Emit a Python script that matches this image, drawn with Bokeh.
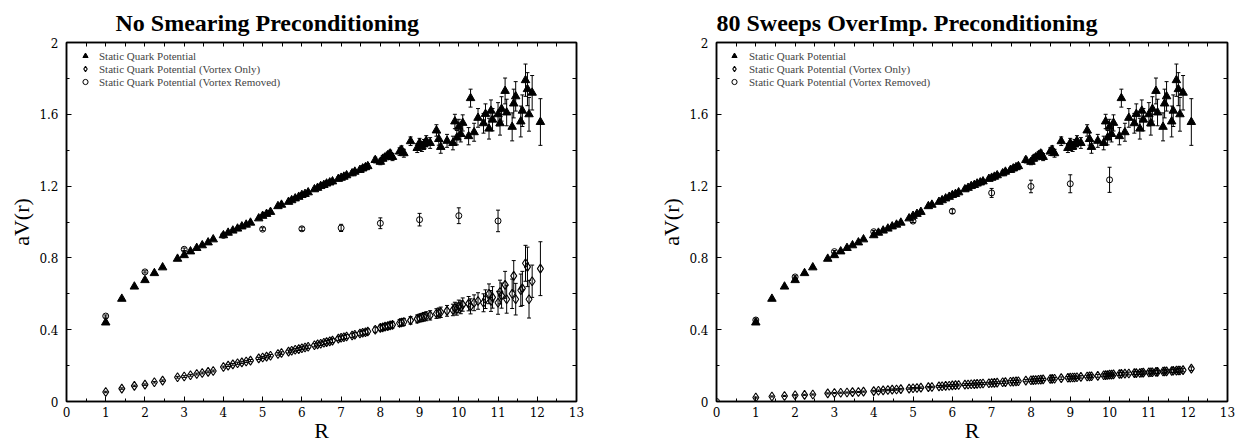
from bokeh.plotting import figure
from bokeh.models import (ColumnDataSource, Whisker, TeeHead, LinearAxis,
                          SingleIntervalTicker, FixedTicker, CustomJSTickFormatter,
                          Range1d, Legend, LegendItem)
from bokeh.layouts import row
from bokeh.embed import file_html
from bokeh.resources import INLINE

# ---------------- data ----------------
titles = ["No Smearing Preconditioning", "80 Sweeps OverImp. Preconditioning"]
legend_labels = ["Static Quark Potential",
                 "Static Quark Potential (Vortex Only)",
                 "Static Quark Potential (Vortex Removed)"]
x_label = "R"
y_label = "aV(r)"

r_all = [1.00, 1.41, 1.73, 2.00, 2.24, 2.45, 2.83, 3.00, 3.16, 3.32,
         3.46, 3.61, 3.74, 4.00, 4.12, 4.24, 4.36, 4.47, 4.58, 4.69,
         4.90, 5.00, 5.10, 5.20, 5.39, 5.48, 5.66, 5.74, 5.83, 5.92,
         6.00, 6.08, 6.16, 6.32, 6.40, 6.48, 6.56, 6.63, 6.71, 6.78,
         6.93, 7.00, 7.07, 7.14, 7.28, 7.35, 7.48, 7.55, 7.62, 7.68,
         7.87, 8.00, 8.06, 8.12, 8.19, 8.25, 8.31, 8.49, 8.54, 8.60,
         8.77, 8.94, 9.00, 9.06, 9.11, 9.17, 9.27, 9.43, 9.49, 9.54,
         9.70, 9.85, 9.90, 9.95, 10.00, 10.05, 10.10, 10.25, 10.30, 10.39,
         10.49, 10.63, 10.68, 10.77, 10.82, 10.86, 11.00, 11.05, 11.09, 11.18,
         11.22, 11.36, 11.40, 11.45, 11.58, 11.62, 11.70, 11.75, 11.79, 11.87,
         12.08]

# full static quark potential (same in both panels)
v_full = [0.440, 0.572, 0.640, 0.676, 0.715, 0.747, 0.795, 0.815, 0.836, 0.855,
          0.870, 0.886, 0.903, 0.926, 0.940, 0.952, 0.963, 0.975, 0.985, 0.996,
          1.020, 1.034, 1.045, 1.056, 1.088, 1.096, 1.112, 1.121, 1.131, 1.140,
          1.150, 1.156, 1.165, 1.182, 1.190, 1.200, 1.206, 1.214, 1.220, 1.226,
          1.240, 1.246, 1.252, 1.260, 1.271, 1.280, 1.290, 1.298, 1.305, 1.311,
          1.345, 1.335, 1.352, 1.360, 1.372, 1.381, 1.362, 1.392, 1.402, 1.383,
          1.450, 1.412, 1.440, 1.420, 1.432, 1.452, 1.440, 1.510, 1.462, 1.418,
          1.452, 1.440, 1.560, 1.470, 1.530, 1.490, 1.552, 1.478, 1.690, 1.500,
          1.580, 1.550, 1.602, 1.520, 1.620, 1.570, 1.600, 1.550, 1.630, 1.730,
          1.610, 1.530, 1.660, 1.700, 1.560, 1.620, 1.790, 1.740, 1.600, 1.720,
          1.557]
e_full = [0.003, 0.003, 0.003, 0.003, 0.003, 0.004, 0.004, 0.004, 0.004, 0.004,
          0.004, 0.004, 0.004, 0.004, 0.004, 0.004, 0.005, 0.005, 0.005, 0.005,
          0.005, 0.006, 0.006, 0.006, 0.006, 0.007, 0.007, 0.007, 0.007, 0.008,
          0.008, 0.008, 0.008, 0.009, 0.009, 0.009, 0.010, 0.010, 0.010, 0.010,
          0.011, 0.011, 0.012, 0.012, 0.013, 0.013, 0.014, 0.014, 0.015, 0.015,
          0.016, 0.016, 0.017, 0.018, 0.018, 0.019, 0.020, 0.021, 0.022, 0.022,
          0.024, 0.025, 0.026, 0.027, 0.028, 0.029, 0.030, 0.032, 0.034, 0.035,
          0.036, 0.038, 0.040, 0.040, 0.042, 0.044, 0.045, 0.048, 0.050, 0.050,
          0.052, 0.055, 0.056, 0.058, 0.060, 0.062, 0.065, 0.066, 0.068, 0.072,
          0.074, 0.078, 0.080, 0.082, 0.086, 0.088, 0.090, 0.092, 0.094, 0.096,
          0.130]

# vortex only, no smearing
v_only_nosmear = [0.053, 0.072, 0.087, 0.094, 0.107, 0.116, 0.135, 0.139, 0.146, 0.153,
                  0.159, 0.165, 0.170, 0.192, 0.200, 0.207, 0.213, 0.218, 0.223, 0.228,
                  0.240, 0.245, 0.250, 0.255, 0.265, 0.270, 0.278, 0.283, 0.288, 0.292,
                  0.297, 0.301, 0.305, 0.313, 0.318, 0.322, 0.327, 0.331, 0.335, 0.339,
                  0.350, 0.355, 0.358, 0.362, 0.368, 0.372, 0.379, 0.383, 0.386, 0.390,
                  0.400, 0.410, 0.413, 0.417, 0.420, 0.424, 0.427, 0.437, 0.440, 0.443,
                  0.452, 0.460, 0.465, 0.468, 0.472, 0.475, 0.480, 0.490, 0.493, 0.497,
                  0.505, 0.510, 0.520, 0.515, 0.530, 0.525, 0.540, 0.545, 0.530, 0.550,
                  0.560, 0.550, 0.570, 0.600, 0.560, 0.580, 0.550, 0.610, 0.590, 0.650,
                  0.570, 0.600, 0.700, 0.570, 0.620, 0.630, 0.770, 0.750, 0.570, 0.670,
                  0.740]
e_only_nosmear = [0.004, 0.004, 0.004, 0.004, 0.004, 0.004, 0.005, 0.005, 0.005, 0.005,
                  0.005, 0.005, 0.005, 0.005, 0.005, 0.005, 0.006, 0.006, 0.006, 0.006,
                  0.006, 0.006, 0.007, 0.007, 0.007, 0.007, 0.008, 0.008, 0.008, 0.008,
                  0.008, 0.009, 0.009, 0.009, 0.009, 0.010, 0.010, 0.010, 0.010, 0.011,
                  0.011, 0.011, 0.012, 0.012, 0.012, 0.013, 0.013, 0.014, 0.014, 0.015,
                  0.015, 0.016, 0.016, 0.017, 0.017, 0.018, 0.018, 0.019, 0.020, 0.020,
                  0.021, 0.022, 0.022, 0.023, 0.024, 0.025, 0.026, 0.027, 0.028, 0.029,
                  0.030, 0.032, 0.033, 0.034, 0.035, 0.036, 0.037, 0.040, 0.042, 0.044,
                  0.046, 0.050, 0.052, 0.055, 0.058, 0.060, 0.064, 0.066, 0.070, 0.075,
                  0.078, 0.082, 0.085, 0.088, 0.090, 0.095, 0.100, 0.110, 0.105, 0.090,
                  0.150]

# vortex only, 80 sweeps over-improved
v_only_overimp = [0.022, 0.028, 0.031, 0.035, 0.037, 0.039, 0.045, 0.047, 0.049, 0.050,
                  0.052, 0.053, 0.055, 0.058, 0.060, 0.062, 0.064, 0.066, 0.067, 0.069,
                  0.072, 0.074, 0.075, 0.077, 0.080, 0.081, 0.084, 0.085, 0.087, 0.088,
                  0.090, 0.091, 0.092, 0.094, 0.095, 0.096, 0.097, 0.098, 0.099, 0.100,
                  0.102, 0.103, 0.104, 0.105, 0.107, 0.108, 0.110, 0.111, 0.112, 0.113,
                  0.116, 0.118, 0.119, 0.120, 0.121, 0.122, 0.123, 0.125, 0.126, 0.127,
                  0.130, 0.132, 0.133, 0.134, 0.134, 0.135, 0.137, 0.139, 0.140, 0.141,
                  0.143, 0.146, 0.147, 0.148, 0.150, 0.150, 0.151, 0.153, 0.154, 0.155,
                  0.156, 0.158, 0.158, 0.159, 0.160, 0.161, 0.162, 0.163, 0.163, 0.165,
                  0.165, 0.167, 0.168, 0.168, 0.170, 0.171, 0.172, 0.173, 0.173, 0.175,
                  0.183]
e_only_overimp = [0.003, 0.003, 0.003, 0.003, 0.003, 0.003, 0.003, 0.003, 0.003, 0.003,
                  0.003, 0.003, 0.003, 0.004, 0.004, 0.004, 0.004, 0.004, 0.004, 0.004,
                  0.004, 0.004, 0.004, 0.004, 0.004, 0.004, 0.005, 0.005, 0.005, 0.005,
                  0.005, 0.005, 0.005, 0.005, 0.005, 0.005, 0.005, 0.005, 0.005, 0.005,
                  0.005, 0.005, 0.005, 0.005, 0.006, 0.006, 0.006, 0.006, 0.006, 0.006,
                  0.006, 0.006, 0.006, 0.006, 0.006, 0.006, 0.006, 0.007, 0.007, 0.007,
                  0.007, 0.007, 0.007, 0.007, 0.007, 0.007, 0.007, 0.007, 0.007, 0.008,
                  0.008, 0.008, 0.008, 0.008, 0.008, 0.008, 0.008, 0.008, 0.008, 0.008,
                  0.008, 0.008, 0.008, 0.008, 0.009, 0.009, 0.009, 0.009, 0.009, 0.009,
                  0.009, 0.009, 0.009, 0.009, 0.009, 0.010, 0.010, 0.010, 0.010, 0.010,
                  0.010]

# vortex removed
r_removed_nosmear = [1, 2, 3, 4, 5, 6, 7, 8, 9, 10, 11]
v_removed_nosmear = [0.476, 0.722, 0.848, 0.925, 0.960, 0.962, 0.967, 0.993, 1.013, 1.035, 1.006]
e_removed_nosmear = [0.006, 0.006, 0.007, 0.008, 0.008, 0.010, 0.020, 0.030, 0.035, 0.044, 0.060]

r_removed_overimp = [0, 1, 2, 3, 4, 5, 6, 7, 8, 9, 10]
v_removed_overimp = [0.000, 0.454, 0.694, 0.835, 0.946, 1.005, 1.060, 1.162, 1.198, 1.213, 1.235]
e_removed_overimp = [0.000, 0.006, 0.006, 0.006, 0.007, 0.008, 0.012, 0.025, 0.035, 0.050, 0.070]

for arr in (v_full, e_full, v_only_nosmear, e_only_nosmear, v_only_overimp, e_only_overimp):
    assert len(arr) == len(r_all)

# ---------------- styling ----------------
SERIF = "Liberation Serif"
TICKF = "DejaVu Serif"
FIG_H = 445


def make_src(x, v, e):
    return ColumnDataSource(dict(
        x=x, y=v,
        lo=[a - b for a, b in zip(v, e)],
        hi=[a + b for a, b in zip(v, e)]))


def add_err(p, s):
    w = Whisker(source=s, base="x", upper="hi", lower="lo", dimension="height",
                line_color="black", line_width=1, level="underlay",
                upper_head=TeeHead(size=4, line_color="black", line_width=1),
                lower_head=TeeHead(size=4, line_color="black", line_width=1))
    p.add_layout(w)


def style_axis(ax):
    ax.axis_line_color = "black"
    ax.axis_line_width = 1.5
    ax.major_tick_in = 5
    ax.major_tick_out = 0
    ax.minor_tick_in = 3
    ax.minor_tick_out = 0
    ax.major_tick_line_color = "black"
    ax.minor_tick_line_color = "black"


def mirror_axis(minor_positions):
    # tick marks only (no labels) for the top / right frame edges
    ax = LinearAxis(ticker=FixedTicker(ticks=[], minor_ticks=minor_positions))
    style_axis(ax)
    ax.minor_tick_in = 4
    ax.major_label_standoff = 0
    return ax


def make_panel(title, title_offset, width, border_left, border_right,
               v_only, e_only, r_rem, v_rem, e_rem, glyph_w, label_off):
    p = figure(width=width, height=FIG_H, output_backend="svg", toolbar_location=None,
               x_range=Range1d(0, 13), y_range=Range1d(0, 2),
               min_border_left=border_left, min_border_right=border_right,
               min_border_top=42, min_border_bottom=42,
               x_axis_label=x_label, y_axis_label=y_label)
    p.grid.visible = False
    p.outline_line_color = "black"
    p.outline_line_width = 1.5
    p.background_fill_color = "white"
    p.border_fill_color = "white"

    p.title.text = title
    p.title.align = "left"
    p.title.offset = title_offset
    p.title.text_font = SERIF
    p.title.text_font_size = "24px"
    p.title.text_font_style = "bold"
    p.title.text_color = "black"
    p.title.standoff = 14

    p.xaxis.ticker = SingleIntervalTicker(interval=1, num_minor_ticks=2)
    p.yaxis.ticker = SingleIntervalTicker(interval=0.4, num_minor_ticks=2)
    p.yaxis.formatter = CustomJSTickFormatter(
        code="return tick.toFixed(1).replace(/\\.0$/, '');")
    for ax in p.xaxis + p.yaxis:
        style_axis(ax)
        ax.major_label_text_font = TICKF
        ax.major_label_text_font_size = "12px"
        ax.major_label_text_color = "black"
        ax.axis_label_text_font = SERIF
        ax.axis_label_text_font_size = "22px"
        ax.axis_label_text_font_style = "normal"
        ax.axis_label_text_color = "black"
    p.xaxis.major_label_standoff = 5
    p.xaxis.axis_label_standoff = -2
    p.yaxis.major_label_standoff = 8
    p.yaxis.axis_label_standoff = 2

    p.add_layout(mirror_axis([i * 0.5 for i in range(27)]), "above")
    p.add_layout(mirror_axis([i * 0.2 for i in range(11)]), "right")

    s_full = make_src(r_all, v_full, e_full)
    s_only = make_src(r_all, v_only, e_only)
    s_rem = make_src(r_rem, v_rem, e_rem)
    for s in (s_full, s_only, s_rem):
        add_err(p, s)

    g_full = p.scatter("x", "y", source=s_full, marker="triangle", size=8.5,
                       fill_color="black", line_color="black", line_width=1)
    g_only = p.scatter("x", "y", source=s_only, marker="diamond", size=9,
                       fill_color=None, line_color="black", line_width=1.1)
    g_rem = p.scatter("x", "y", source=s_rem, marker="circle", size=6,
                      fill_color=None, line_color="black", line_width=1)

    legend = Legend(items=[LegendItem(label=legend_labels[0], renderers=[g_full]),
                           LegendItem(label=legend_labels[1], renderers=[g_only]),
                           LegendItem(label=legend_labels[2], renderers=[g_rem])],
                    location="top_left", margin=0, padding=7, spacing=0,
                    glyph_width=glyph_w, glyph_height=13, label_height=13,
                    label_standoff=label_off,
                    label_text_font=SERIF, label_text_font_size="11px",
                    label_text_color="#444444",
                    background_fill_alpha=0, border_line_alpha=0)
    p.add_layout(legend)
    return p


p1 = make_panel(titles[0], 49, 648, 66, 72,
                v_only_nosmear, e_only_nosmear,
                r_removed_nosmear, v_removed_nosmear, e_removed_nosmear, 24, 2)
p2 = make_panel(titles[1], 0, 593, 68, 14,
                v_only_overimp, e_only_overimp,
                r_removed_overimp, v_removed_overimp, e_removed_overimp, 22, 4)

layout = row(p1, p2, spacing=0)
open("out.html", "w").write(file_html(layout, INLINE))
